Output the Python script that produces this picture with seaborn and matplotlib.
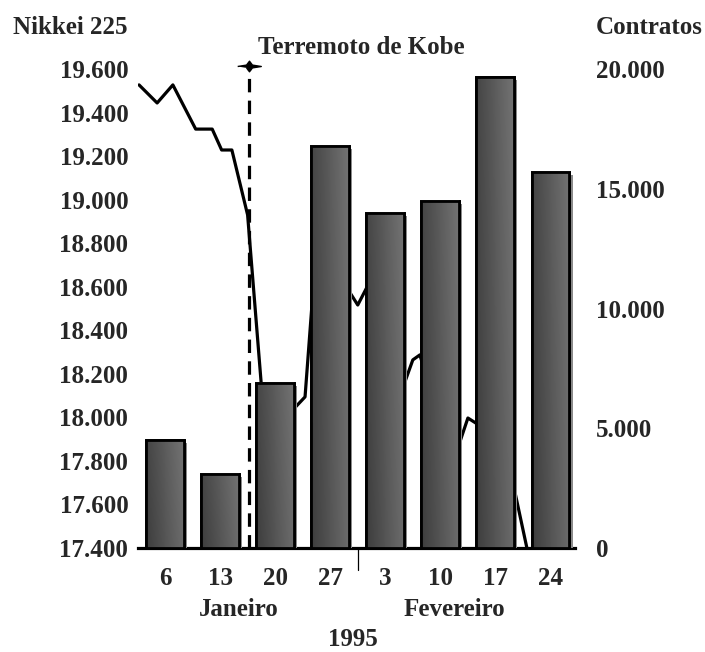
import numpy as np
import matplotlib
matplotlib.use("Agg")
import matplotlib.pyplot as plt
import matplotlib.patheffects as pe
from matplotlib.patches import Rectangle
from matplotlib.ticker import FuncFormatter
import seaborn as sns

# contratos por semana (dias contados desde 1 de janeiro de 1995)
bar_days = [6, 13, 20, 27, 34, 41, 48, 55]
bar_labels = ["6", "13", "20", "27", "3", "10", "17", "24"]
contratos = [4500, 3100, 6900, 16800, 14000, 14500, 19650, 15700]

# Nikkei 225 diario
nikkei_days = [2.7, 5.0, 7.0, 9.9, 12.0, 13.2, 14.5, 16.5, 18.5, 22.6, 23.8,
               25.3, 30.5, 31.8, 32.7, 35.9, 37.5, 38.4, 42.5, 44.5, 45.5,
               49.2, 50.5, 52.0]
nikkei = [19527, 19444, 19527, 19324, 19324, 19228, 19228, 18930, 18034,
          18048, 18094, 18815, 18516, 18607, 18677, 18103, 18264, 18287,
          17781, 17997, 17974, 17850, 17653, 17400]

terremoto_dia = 16.7
left_ticks = list(range(17400, 19601, 200))
right_ticks = [0, 5000, 10000, 15000, 20000]

sns.set_style("white")
plt.rcParams["font.family"] = ["Liberation Serif", "DejaVu Serif"]
plt.rcParams["font.weight"] = "bold"
plt.rcParams["font.size"] = 18

W, H = 705, 652
fig = plt.figure(figsize=(W / 100, H / 100), dpi=100)
base_px, top_px, ref_px = 548, 60, 69
ax = fig.add_axes([138 / W, (H - base_px) / H, (575 - 138) / W, (base_px - top_px) / H])
ax2 = ax.twinx()

# escalas
left_top = 17400 + (base_px - top_px) * 2200 / (base_px - ref_px)
right_top = (base_px - top_px) * 20000 / (base_px - ref_px)
px_day = (550.5 - 165) / 49
xmin = 6 - (165 - 138) / px_day
xmax = 55 + (575 - 550.5) / px_day

df_line = {"dia": nikkei_days, "nikkei": nikkei}
sns.lineplot(x="dia", y="nikkei", data=df_line, ax=ax, color="black", lw=2.3)

# linha do terremoto
ax.plot([terremoto_dia, terremoto_dia], [17400, 19615], color="black", lw=2.3,
        dashes=(4.2, 2.6), solid_capstyle="butt")
star = [(-1, 0), (-0.25, 0.12), (0, 0.45), (0.25, 0.12), (1, 0),
        (0.25, -0.12), (0, -0.45), (-0.25, -0.12)]
ax.plot([terremoto_dia], [19615], marker=star, ms=17, color="black", clip_on=False)

# barras
sns.barplot(x=bar_days, y=contratos, ax=ax2, native_scale=True, width=0.69,
            color="#555555", edgecolor="black", linewidth=2, saturation=1)
grad = 0.24 + 0.18 * np.linspace(0, 1, 40)[None, :] + 0.03 * np.linspace(0, 1, 30)[:, None]
for p in list(ax2.patches):
    p.set_path_effects([pe.SimplePatchShadow(offset=(2.2, -2.2), shadow_rgbFace="#8a8a8a", alpha=1),
                        pe.Normal()])
    p.set_zorder(1)
    x0, w, h = p.get_x(), p.get_width(), p.get_height()
    ax2.imshow(grad, cmap="gray", vmin=0, vmax=1, extent=[x0, x0 + w, 0, h],
               aspect="auto", origin="lower", zorder=1.5, interpolation="bilinear")
    ax2.add_patch(Rectangle((x0, 0), w, h, fill=False, ec="black", lw=2, zorder=2))

ax.set_xlim(xmin, xmax)
ax2.set_xlim(xmin, xmax)
ax.set_ylim(17400, left_top)
ax2.set_ylim(0, right_top)

fmt = FuncFormatter(lambda v, _: f"{int(v):,}".replace(",", "."))
ax.set_yticks(left_ticks)
ax.yaxis.set_major_formatter(fmt)
ax2.set_yticks(right_ticks)
ax2.yaxis.set_major_formatter(fmt)
ax.set_xticks(bar_days, labels=bar_labels)
ax.set_xlabel("")
ax.set_ylabel("")
ax2.set_xlabel("")
ax2.set_ylabel("")
ax.tick_params(axis="y", length=0, pad=7)
ax.tick_params(axis="x", length=0, pad=14)
ax2.tick_params(axis="y", length=0, pad=15)

for s in ["left", "right", "top"]:
    ax.spines[s].set_visible(False)
for s in ax2.spines.values():
    s.set_visible(False)
ax.spines["bottom"].set_linewidth(2.3)
ax.spines["bottom"].set_color("black")

# separador entre os meses
sep = (bar_days[3] + bar_days[4]) / 2
ax.plot([sep, sep], [0, -22 / (base_px - top_px)], color="black", lw=0.9,
        transform=ax.get_xaxis_transform(), clip_on=False)

trans = ax.get_xaxis_transform()
ax.text(15.4, -62 / (base_px - top_px), "Janeiro", transform=trans, ha="center", va="center")
ax.text(42.8, -62 / (base_px - top_px), "Fevereiro", transform=trans, ha="center", va="center")
ax.text(29.9, -91 / (base_px - top_px), "1995", transform=trans, ha="center", va="center")

fig.text(13 / W, 1 - 27 / H, "Nikkei 225", ha="left", va="center")
fig.text(596 / W, 1 - 28 / H, "Contratos", ha="left", va="center")
fig.text(258 / W, 1 - 47 / H, "Terremoto de Kobe", ha="left", va="center")

fig.savefig("out.png", dpi=100)
